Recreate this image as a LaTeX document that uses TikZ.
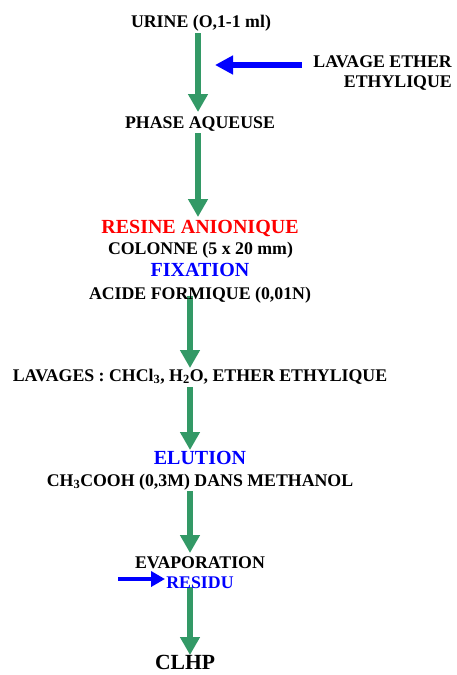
\documentclass[tikz,border=0pt]{standalone}
\usepackage{fontspec}
\setmainfont{Liberation Serif}
\usetikzlibrary{arrows.meta}
\definecolor{fgreen}{RGB}{51,153,102}
\definecolor{fblue}{RGB}{0,0,255}
\definecolor{fred}{RGB}{255,0,0}
\tikzset{
  txt/.style={anchor=base,inner sep=0pt,font=\fontsize{17.8}{20}\selectfont\bfseries},
  bigtxt/.style={anchor=base,inner sep=0pt,font=\fontsize{20}{24}\selectfont\bfseries},
  garrow/.style={draw=fgreen,line width=6pt,-{Triangle[width=19pt,length=18pt,fill=fgreen]}},
  barrow/.style={draw=fblue,line width=6pt,-{Triangle[width=18pt,length=18pt,fill=fblue]}},
  sbarrow/.style={draw=fblue,line width=4pt,-{Triangle[width=15pt,length=14pt,fill=fblue]}}
}
\begin{document}
\begin{tikzpicture}[x=1pt,y=-1pt]
\useasboundingbox (0,0) rectangle (456,675);
% arrow end points
\coordinate (a1s) at (198,33);  \coordinate (a1e) at (198,112);
\coordinate (a2s) at (198,133); \coordinate (a2e) at (198,217);
\coordinate (a3s) at (190,296); \coordinate (a3e) at (190,368);
\coordinate (a4s) at (190,387); \coordinate (a4e) at (190,450);
\coordinate (a5s) at (190,491); \coordinate (a5e) at (190,553);
\coordinate (a6s) at (190,587); \coordinate (a6e) at (190,655);
\coordinate (b1s) at (302,65);  \coordinate (b1e) at (215,65);
\coordinate (b2s) at (118,579); \coordinate (b2e) at (165,579);
\draw[garrow] (a1s) -- (a1e);
\draw[garrow] (a2s) -- (a2e);
\draw[garrow] (a3s) -- (a3e);
\draw[garrow] (a4s) -- (a4e);
\draw[garrow] (a5s) -- (a5e);
\draw[garrow] (a6s) -- (a6e);
\draw[barrow] (b1s) -- (b1e);
\draw[sbarrow] (b2s) -- (b2e);
% texts
\node[txt] (urine) at (201,27) {URINE (O,1-1 ml)};
\node[txt,anchor=base east] (lav1) at (452,67) {LAVAGE ETHER};
\node[txt,anchor=base east] (lav2) at (452,87) {ETHYLIQUE};
\node[txt] (phase) at (200,128) {PHASE AQUEUSE};
\node[bigtxt,text=fred] (resine) at (200,233) {RESINE ANIONIQUE};
\node[txt] (colonne) at (200.5,254) {COLONNE (5 x 20 mm)};
\node[bigtxt,text=fblue] (fix) at (200,276) {FIXATION};
\node[txt] (acide) at (200,299) {ACIDE FORMIQUE (0,01N)};
\node[txt] (lavages) at (200,381) {LAVAGES : CHCl\textsubscript{3}, H\textsubscript{2}O, ETHER ETHYLIQUE};
\node[bigtxt,text=fblue] (elution) at (200,464) {ELUTION};
\node[txt] (ch3) at (200,486) {CH\textsubscript{3}COOH (0,3M) DANS METHANOL};
\node[txt] (evap) at (200,568) {EVAPORATION};
\node[txt,text=fblue] (residu) at (200,588) {RESIDU};
\node[anchor=base,inner sep=0pt,font=\fontsize{21.6}{26}\selectfont\bfseries] (clhp) at (185,669) {CLHP};
\end{tikzpicture}
\end{document}
